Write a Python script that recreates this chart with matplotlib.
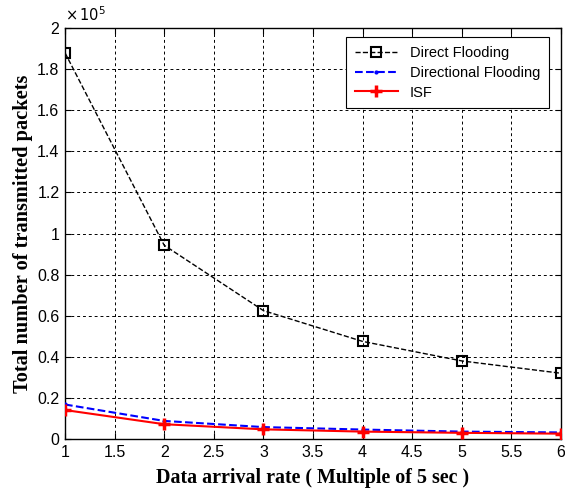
import matplotlib.pyplot as plt
from matplotlib.ticker import FuncFormatter, MultipleLocator

# data (values in units of 10^5 packets)
rate = [1, 2, 3, 4, 5, 6]
direct_flooding = [1.88, 0.943, 0.625, 0.475, 0.38, 0.32]
directional_flooding = [0.168, 0.088, 0.058, 0.046, 0.036, 0.032]
isf = [0.141, 0.072, 0.047, 0.036, 0.030, 0.026]

fig = plt.figure(figsize=(5.65, 4.88), dpi=100)
ax = fig.add_axes([0.115, 0.1004, 0.878, 0.842])

ax.plot(rate, direct_flooding, color='black', linestyle='--', linewidth=1.0,
        marker='s', markersize=7, markerfacecolor='none', markeredgewidth=1.5,
        label='Direct Flooding', zorder=3)
ax.plot(rate, directional_flooding, color='blue', linestyle='--', linewidth=1.5,
        marker='.', markersize=4, label='Directional Flooding', zorder=3)
ax.plot(rate, isf, color='red', linestyle='-', linewidth=1.5,
        marker='+', markersize=8, markeredgewidth=2.5, label='ISF', zorder=4)

ax.set_xlim(1, 6)
ax.set_ylim(0, 2)
ax.xaxis.set_major_locator(MultipleLocator(0.5))
ax.yaxis.set_major_locator(MultipleLocator(0.2))
fmt = FuncFormatter(lambda v, p: '%g' % round(v, 2))
ax.xaxis.set_major_formatter(fmt)
ax.yaxis.set_major_formatter(fmt)

ax.grid(True, color='black', linestyle=(0, (3, 3)), linewidth=0.7)
ax.tick_params(direction='in', top=True, right=True, length=4,
               labelsize=11.5, pad=4)
for lab in ax.get_xticklabels() + ax.get_yticklabels():
    lab.set_family('Liberation Sans')
for s in ax.spines.values():
    s.set_linewidth(1.0)

ax.text(0.0, 1.01, r'$\times\,10^{5}$', transform=ax.transAxes,
        fontsize=10.5, family='Liberation Sans', va='bottom', ha='left')

ax.set_xlabel('Data arrival rate ( Multiple of 5 sec )', family='Liberation Serif',
              fontweight='bold', fontsize=14.4, labelpad=6)
ax.set_ylabel('Total number of transmitted packets', family='Liberation Serif',
              fontweight='bold', fontsize=14.7, labelpad=3)

leg = ax.legend(loc='upper right', bbox_to_anchor=(0.976, 0.978),
                borderaxespad=0, frameon=True, fancybox=False,
                edgecolor='black', framealpha=1, handlelength=3,
                labelspacing=0.4, borderpad=0.6,
                prop={'family': 'Liberation Sans', 'size': 10.5})
leg.get_frame().set_linewidth(0.8)

fig.savefig('out.png', dpi=100)
